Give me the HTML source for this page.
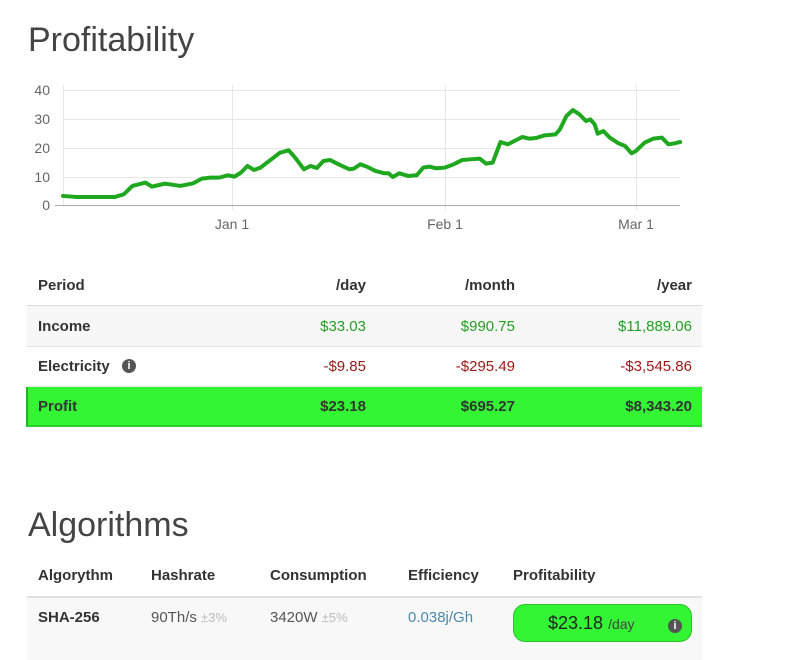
<!DOCTYPE html>
<html><head><style>
body{margin:0;background:#fff;font-family:"Liberation Sans",sans-serif;color:#333;width:799px;height:660px;position:relative;overflow:hidden}
.a{position:absolute;white-space:nowrap}
h1{position:absolute;margin:0;font-weight:300;font-size:34px;color:#444;left:28px}
.b{font-weight:bold;font-size:15px;color:#333}
.r{text-align:right}
.g{color:#22a022;font-size:15px}
.red{color:#a01818;font-size:15px}
</style></head><body>
<h1 style="top:21px">Profitability</h1>
<svg class="a" style="left:0;top:0" width="799" height="250">
<g stroke="#e6e6e6" stroke-width="1">
<line x1="63" y1="90.5" x2="680" y2="90.5"/><line x1="63" y1="119.5" x2="680" y2="119.5"/><line x1="63" y1="148.5" x2="680" y2="148.5"/><line x1="63" y1="177.5" x2="680" y2="177.5"/>
<line x1="63.5" y1="85" x2="63.5" y2="205"/><line x1="232.5" y1="85" x2="232.5" y2="210"/><line x1="445.5" y1="85" x2="445.5" y2="210"/><line x1="636.5" y1="85" x2="636.5" y2="210"/>
</g>
<line x1="55" y1="205.5" x2="680" y2="205.5" stroke="#aaa"/>
<g font-size="14" fill="#666" font-family="Liberation Sans">
<text x="50" y="95" text-anchor="end">40</text><text x="50" y="124" text-anchor="end">30</text><text x="50" y="153" text-anchor="end">20</text><text x="50" y="182" text-anchor="end">10</text><text x="50" y="210" text-anchor="end">0</text>
<text x="232" y="229" text-anchor="middle">Jan 1</text><text x="445" y="229" text-anchor="middle">Feb 1</text><text x="636" y="229" text-anchor="middle">Mar 1</text>
</g>
<g transform="translate(19.6,69.4) scale(0.434,0.333)">
<polyline fill="none" stroke="#1fa81f" stroke-width="4" vector-effect="non-scaling-stroke" stroke-linejoin="round" stroke-linecap="round" points="100,380 130,383 220,383 240,375 260,350 290,340 305,352 335,343 370,350 400,342 420,328 440,325 460,325 480,318 495,322 510,310 525,290 540,302 555,295 580,270 600,250 620,243 635,265 655,300 670,290 685,296 700,275 715,272 735,285 760,300 770,298 785,285 800,292 820,305 840,312 850,312 860,323 875,312 895,320 915,318 930,295 945,292 960,297 980,295 1000,285 1020,272 1040,270 1060,268 1075,283 1090,280 1108,218 1125,225 1140,215 1158,203 1175,208 1190,206 1210,198 1235,195 1245,180 1260,140 1275,122 1290,135 1305,155 1315,150 1325,165 1332,193 1345,185 1360,205 1380,222 1395,230 1410,252 1420,245 1440,220 1460,208 1480,205 1495,225 1510,222 1522,218"/>
</g>
</svg>
<div class="a" style="left:27px;top:305px;width:675px;height:1px;background:#ddd"></div>
<div class="a" style="left:27px;top:306px;width:675px;height:40px;background:#f7f7f7;border-bottom:1px solid #e5e5e5"></div>
<div class="a" style="left:27px;top:347px;width:675px;height:39px;border-bottom:1px solid #e5e5e5"></div>
<div class="a" style="left:26px;top:387px;width:676px;height:40px;background:#33f533;border-left:2px solid #1bb81b;border-bottom:2px solid #2bd02b;box-sizing:border-box"></div>
<div class="a b" style="left:38px;top:277px">Period</div>
<div class="a b r" style="right:433px;top:277px">/day</div>
<div class="a b r" style="right:284px;top:277px">/month</div>
<div class="a b r" style="right:107px;top:277px">/year</div>
<div class="a b" style="left:38px;top:318px">Income</div>
<div class="a g r" style="right:433px;top:318px">$33.03</div>
<div class="a g r" style="right:284px;top:318px">$990.75</div>
<div class="a g r" style="right:107px;top:318px">$11,889.06</div>
<div class="a b" style="left:38px;top:358px">Electricity</div>
<div class="a" style="left:122px;top:359px;width:14px;height:14px;border-radius:50%;background:#555;color:#fff;font-size:11px;font-weight:bold;text-align:center;line-height:14px">i</div>
<div class="a red r" style="right:433px;top:358px">-$9.85</div>
<div class="a red r" style="right:284px;top:358px">-$295.49</div>
<div class="a red r" style="right:107px;top:358px">-$3,545.86</div>
<div class="a b" style="left:38px;top:398px">Profit</div>
<div class="a b r" style="right:433px;top:398px">$23.18</div>
<div class="a b r" style="right:284px;top:398px">$695.27</div>
<div class="a b r" style="right:107px;top:398px">$8,343.20</div>
<h1 style="top:506px">Algorithms</h1>
<div class="a b" style="left:38px;top:567px">Algorythm</div>
<div class="a b" style="left:151px;top:567px">Hashrate</div>
<div class="a b" style="left:270px;top:567px">Consumption</div>
<div class="a b" style="left:408px;top:567px">Efficiency</div>
<div class="a b" style="left:513px;top:567px">Profitability</div>
<div class="a" style="left:27px;top:596px;width:675px;height:2px;background:#e0e0e0"></div>
<div class="a" style="left:27px;top:598px;width:675px;height:62px;background:#f8f8f8"></div>
<div class="a b" style="left:38px;top:609px">SHA-256</div>
<div class="a" style="left:151px;top:609px;font-size:15px;color:#555">90Th/s <span style="color:#bbb;font-size:13px">±3%</span></div>
<div class="a" style="left:270px;top:609px;font-size:15px;color:#555">3420W <span style="color:#bbb;font-size:13px">±5%</span></div>
<div class="a" style="left:408px;top:609px;font-size:15px;color:#4a8aa8">0.038j/Gh</div>
<div class="a" style="left:513px;top:604px;width:179px;height:38px;border-radius:12px;background:#33f533;border:1px solid #2bc02b;box-sizing:border-box"></div>
<div class="a" style="left:548px;top:613px;font-size:18px;color:#222">$23.18 <span style="font-size:14px;color:#444">/day</span></div>
<div class="a" style="left:668px;top:619px;width:14px;height:14px;border-radius:50%;background:#555;color:#fff;font-size:11px;font-weight:bold;text-align:center;line-height:14px">i</div>
</body></html>
